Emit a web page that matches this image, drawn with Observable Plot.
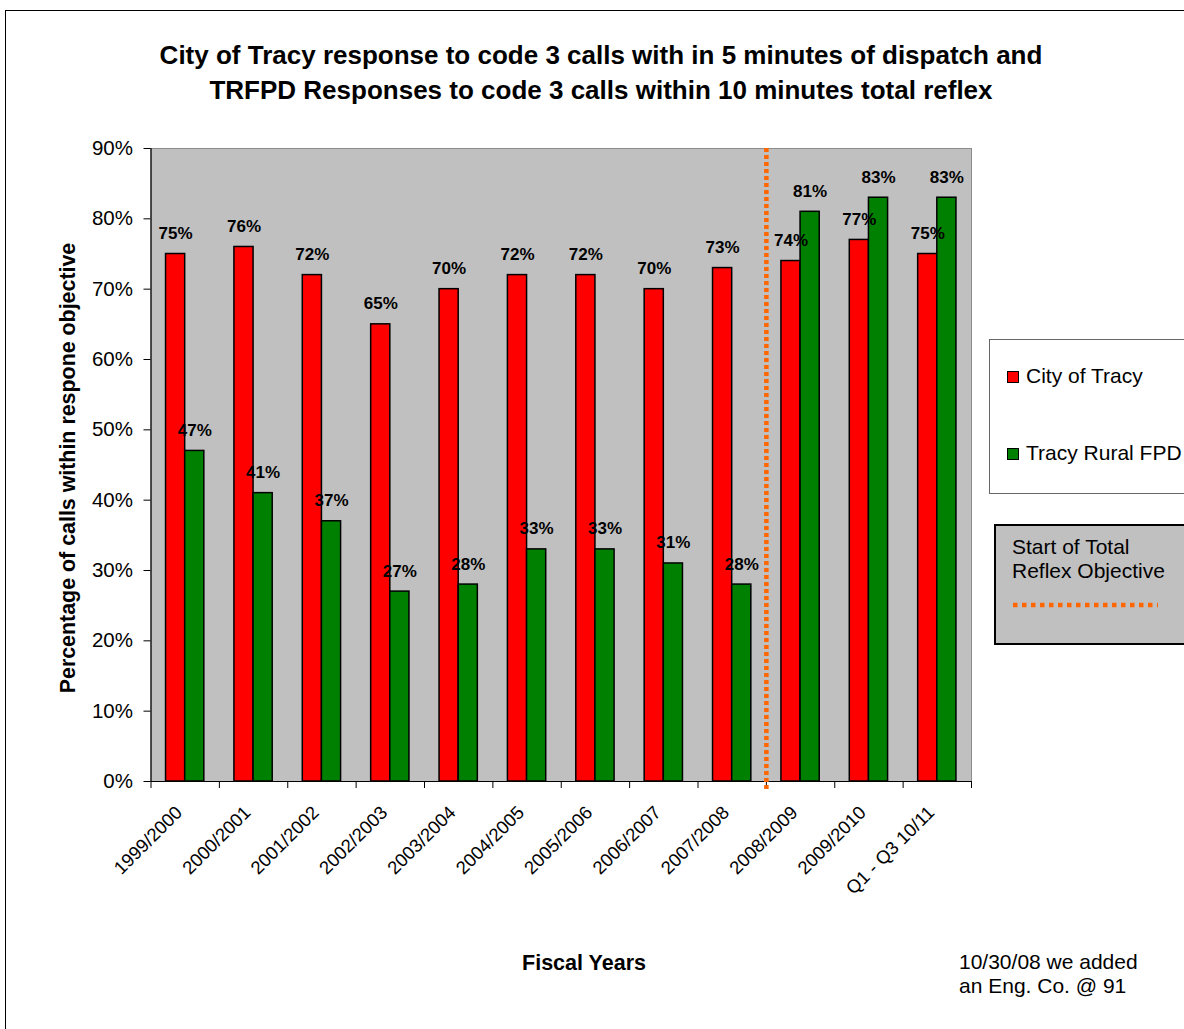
<!DOCTYPE html>
<html>
<head>
<meta charset="utf-8">
<script src="https://cdn.jsdelivr.net/npm/d3@7"></script>
<script src="https://cdn.jsdelivr.net/npm/@observablehq/plot@0.6"></script>
<style>
html, body { margin: 0; padding: 0; background: #fff; overflow: hidden; }
body { width: 1184px; height: 1029px; position: relative; font-family: Arial, "Liberation Sans", sans-serif; color: #000; }
#frame { position: absolute; left: 5px; top: 10px; width: 1300px; height: 1100px; border: 1px solid #000; box-sizing: border-box; }
#chart { position: absolute; left: 0; top: 0; }
#title { position: absolute; left: 0; top: 38px; width: 1202px; text-align: center; font-weight: bold; font-size: 26px; line-height: 35px; }
.abs { position: absolute; white-space: nowrap; }
#legend1 { left: 989px; top: 339px; width: 300px; height: 155px; border: 1px solid #666; background: #fff; box-sizing: border-box; }
#legend2 { left: 994px; top: 524px; width: 300px; height: 121px; border: 2px solid #000; background: #c0c0c0; box-sizing: border-box; }
.sw { position: absolute; width: 12px; height: 12px; border: 1px solid #000; box-sizing: border-box; }
.lt { font-size: 21px; line-height: 24px; }
#xtitle { left: 484px; top: 951px; width: 200px; text-align: center; font-weight: bold; font-size: 21.5px; line-height: 24px; }
#note { left: 959px; top: 950px; font-size: 21px; line-height: 24px; }
</style>
</head>
<body>
<div id="frame"></div>
<div id="chart"></div>
<div id="title"></div>
<div id="legend1" class="abs"></div>
<div id="legend2" class="abs"></div>
<div id="xtitle" class="abs"></div>
<div id="note" class="abs"></div>
<script>
// ---- data ----
const categories = ["1999/2000", "2000/2001", "2001/2002", "2002/2003", "2003/2004", "2004/2005",
  "2005/2006", "2006/2007", "2007/2008", "2008/2009", "2009/2010", "Q1 - Q3 10/11"];
const cityOfTracy = [75, 76, 72, 65, 70, 72, 72, 70, 73, 74, 77, 75];
const tracyRuralFPD = [47, 41, 37, 27, 28, 33, 33, 31, 28, 81, 83, 83];
const yTicks = [0, 10, 20, 30, 40, 50, 60, 70, 80, 90];
const seriesNames = ["City of Tracy", "Tracy Rural FPD"];
const seriesColors = ["#ff0000", "#008000"];
const reflexStartIndex = 9; // boundary before 2008/2009
const titleLines = ["City of Tracy response to code 3 calls with in 5 minutes of dispatch and",
  "TRFPD Responses to code 3 calls within 10 minutes total reflex"];
const yTitle = "Percentage of calls within respone objective";
const xTitle = "Fiscal Years";
const noteLines = ["10/30/08 we added", "an Eng. Co. @ 91"];
const reflexLegendLines = ["Start of Total", "Reflex Objective"];

// ---- chart ----
const idx = d3.range(categories.length);
const font = 'Arial, "Liberation Sans", sans-serif';
const pct = v => v + "%";

const chart = Plot.plot({
  width: 1184,
  height: 1029,
  marginLeft: 150.5,
  marginRight: 213,
  marginTop: 148,
  marginBottom: 248,
  style: { background: "transparent", fontFamily: font, fontSize: "19px", color: "#000", overflow: "visible" },
  x: { type: "linear", domain: [0, categories.length], axis: null },
  y: { domain: [0, 90], axis: null },
  marks: [
    Plot.frame({ fill: "#c0c0c0", stroke: "#8c8c8c" }),
    Plot.rect(idx, { x1: i => i + 0.22, x2: i => i + 0.5, y1: () => 0, y2: i => cityOfTracy[i],
      fill: seriesColors[0], stroke: "#000", strokeWidth: 1.5 }),
    Plot.rect(idx, { x1: i => i + 0.5, x2: i => i + 0.78, y1: () => 0, y2: i => tracyRuralFPD[i],
      fill: seriesColors[1], stroke: "#000", strokeWidth: 1.5 }),
    Plot.ruleY([0], { stroke: "#000", strokeWidth: 1.2 }),
    Plot.ruleX([0], { stroke: "#000", strokeWidth: 1.2 }),
    Plot.axisY({ ticks: yTicks, tickFormat: pct, tickSize: 7, tickPadding: 11, fontSize: 20.5, stroke: "#000" }),
    Plot.axisX({ ticks: d3.range(categories.length + 1), tickFormat: () => "", tickSize: 7, stroke: "#000" }),
    Plot.axisX({ ticks: idx.map(i => i + 0.5), tickFormat: v => categories[Math.floor(v)],
      tickSize: 0, tickRotate: -45, tickPadding: 28, dx: -6, fontSize: 18.5 }),
    Plot.ruleX([reflexStartIndex], { y1: 90, y2: 0, insetBottom: -8, stroke: "#ff6600",
      strokeWidth: 4.5, strokeDasharray: "4,3" }),
    Plot.text(idx, { x: i => i + 0.36, y: i => cityOfTracy[i], text: i => pct(cityOfTracy[i]),
      lineAnchor: "bottom", dy: -15, fontWeight: "bold", fontSize: 17, fill: "#000" }),
    Plot.text(idx, { x: i => i + 0.64, y: i => tracyRuralFPD[i], text: i => pct(tracyRuralFPD[i]),
      lineAnchor: "bottom", dy: -15, fontWeight: "bold", fontSize: 17, fill: "#000" }),
    Plot.text([yTitle], { frameAnchor: "left", textAnchor: "middle", dx: -82.5, dy: 3, rotate: -90,
      fontWeight: "bold", fontSize: 21.4, fill: "#000" })
  ]
});
document.getElementById("chart").appendChild(chart);

// ---- title and annotations ----
document.getElementById("title").innerHTML = titleLines.join("<br>");
document.getElementById("xtitle").textContent = xTitle;
document.getElementById("note").innerHTML = noteLines.join("<br>");

// legend 1
const leg1 = document.getElementById("legend1");
const legTops = [24, 101]; // offsets inside box
seriesNames.forEach((name, k) => {
  const sw = document.createElement("div");
  sw.className = "sw";
  sw.style.left = "17px";
  sw.style.top = (legTops[k] + 7) + "px";
  sw.style.background = seriesColors[k];
  leg1.appendChild(sw);
  const t = document.createElement("div");
  t.className = "abs lt";
  t.style.left = "36px";
  t.style.top = legTops[k] + "px";
  t.textContent = name;
  leg1.appendChild(t);
});

// legend 2
const leg2 = document.getElementById("legend2");
const t2 = document.createElement("div");
t2.className = "abs lt";
t2.style.left = "16px";
t2.style.top = "9px";
t2.innerHTML = reflexLegendLines.join("<br>");
leg2.appendChild(t2);
const ns = "http://www.w3.org/2000/svg";
const s = document.createElementNS(ns, "svg");
s.setAttribute("width", "160");
s.setAttribute("height", "10");
s.style.position = "absolute";
s.style.left = "17px";
s.style.top = "74px";
const ln = document.createElementNS(ns, "line");
ln.setAttribute("x1", "0"); ln.setAttribute("x2", "145");
ln.setAttribute("y1", "5"); ln.setAttribute("y2", "5");
ln.setAttribute("stroke", "#ff6600");
ln.setAttribute("stroke-width", "4.5");
ln.setAttribute("stroke-dasharray", "4.5,4.5");
s.appendChild(ln);
leg2.appendChild(s);
</script>
</body>
</html>
